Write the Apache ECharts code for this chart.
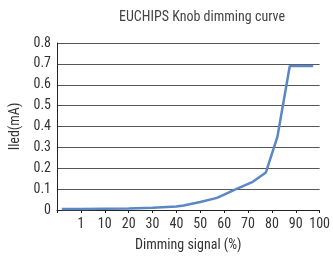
<!DOCTYPE html>
<html>
<head>
<meta charset="utf-8">
<script src="https://cdn.jsdelivr.net/npm/echarts@6/dist/echarts.min.js"></script>
<style>
  html, body { margin: 0; padding: 0; background: #fff; }
  #chart { width: 333px; height: 257px; }
</style>
</head>
<body>
<div id="chart"></div>
<script>
// dimming signal (%), -10 is the unlabelled start of the axis
var signal = [-8, 0, 10, 20, 30, 40, 43, 50, 57, 65, 72, 77.5, 82.3, 87.5, 97.3];
var current = [0.005, 0.005, 0.006, 0.007, 0.011, 0.017, 0.022, 0.038, 0.058, 0.1, 0.135, 0.18, 0.35, 0.69, 0.69];
var xLabels = { "-10": "", "0": "1" };

var font = "'Roboto Condensed', 'DejaVu Sans Condensed', 'Liberation Sans Narrow', Roboto, sans-serif";

var points = [];
for (var i = 0; i < signal.length; i++) {
    points.push([signal[i], current[i]]);
}

var chart = echarts.init(document.getElementById("chart"));
var option = {
    animation: false,
    title: {
        text: "EUCHIPS Knob dimming curve",
        left: 197,
        top: 5,
        textAlign: "center",
        textStyle: { fontFamily: font, fontSize: 14, fontWeight: "normal", color: "#444" }
    },
    grid: { left: 49, right: 11, top: 43, bottom: 47 },
    xAxis: {
        type: "value",
        min: -10,
        max: 100,
        interval: 10,
        name: "Dimming signal (%)",
        nameLocation: "middle",
        nameGap: 28,
        nameTextStyle: { fontFamily: font, fontSize: 14, color: "#333" },
        axisLine: { onZero: false, lineStyle: { color: "#222", width: 1 } },
        axisTick: { show: true, length: 3, lineStyle: { color: "#222" } },
        axisLabel: {
            fontFamily: font, fontSize: 14, color: "#333", margin: 7,
            formatter: function (v) {
                return xLabels[v] !== undefined ? xLabels[v] : String(v);
            }
        },
        splitLine: { show: false }
    },
    yAxis: {
        type: "value",
        min: 0,
        max: 0.8,
        interval: 0.1,
        name: "Iled(mA)",
        nameLocation: "middle",
        nameGap: 35,
        nameTextStyle: { fontFamily: font, fontSize: 14, color: "#333" },
        axisLine: { show: true, onZero: false, lineStyle: { color: "#222", width: 1 } },
        axisTick: { show: false },
        axisLabel: {
            fontFamily: font, fontSize: 14, color: "#333", margin: 6,
            formatter: function (v) { return v === 0 ? "0" : v.toFixed(1); }
        },
        splitLine: { show: true, lineStyle: { color: "#555", width: 1 } }
    },
    series: [{
        type: "line",
        data: points,
        symbol: "none",
        lineStyle: { color: "#5b87c2", width: 2.5 }
    }]
};
chart.setOption(option);
</script>
</body>
</html>
